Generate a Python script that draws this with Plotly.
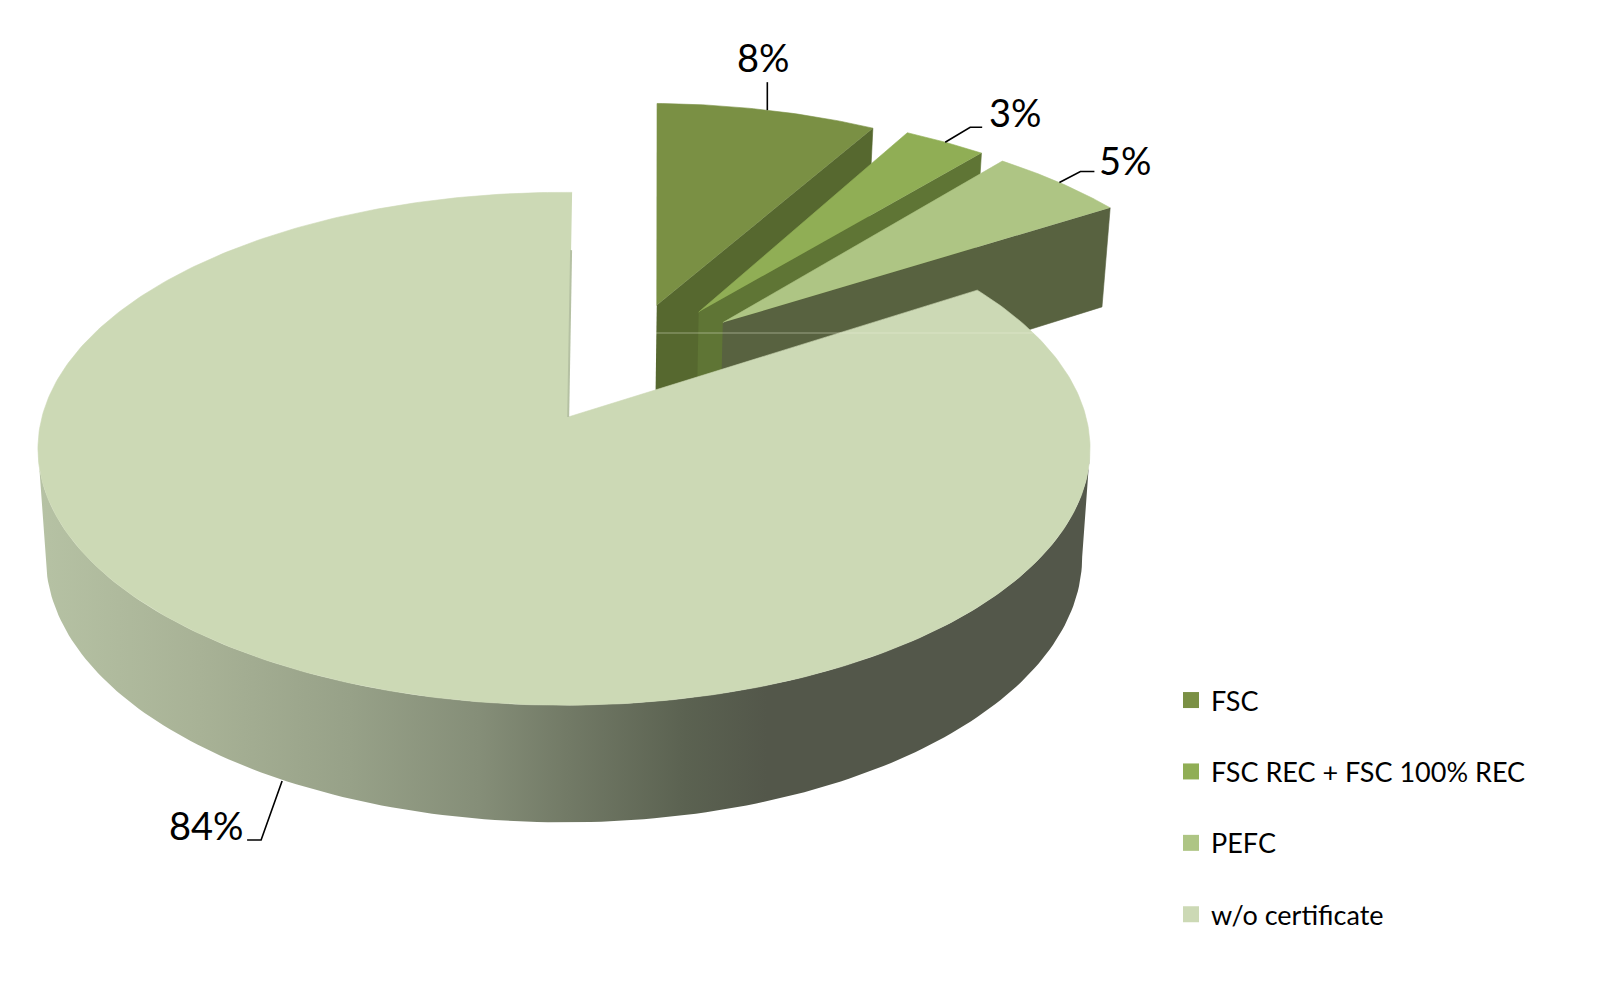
import numpy as np
import plotly.graph_objects as go

# ---- data -------------------------------------------------------------
categories = ["FSC", "FSC REC + FSC 100% REC", "PEFC", "w/o certificate"]
shares = [8, 3, 5, 84]

# ---- styles ------------------------------------------------------------
top_colors = ["#7A9044", "#90AE55", "#AEC584", "#CCD9B5"]
side_colors = ["#56682F", "#5F7535", "#586240", "#53574A"]
rim_scale = [[0.0, "#B6C2A4"], [0.154, "#A8B296"], [0.297, "#97A188"], [0.42, "#858E78"],
             [0.50, "#737B67"], [0.616, "#5B6251"], [0.694, "#53574A"], [1.0, "#53574A"]]

# projection of the pie plane on to the page (px)
CX, CY, A, B, K = 564.0, 417.0, 522.0, 252.5, 0.124
H0, KH, SHRINK = 107.0, 0.0865, 0.015
# exploded offset (plane units), small angular correction, and inner depth factor of each slice
explode = [(0.188, 0.468), (0.272, 0.438), (0.319, 0.392), (0.008, 0.0)]
angle_shift = [1.3, 0.7, 0.3, 0.0]
inner_depth = [1.25, 1.25, 1.0, 1.0]
FONT = "Lato"


def project(X, Y, depth=0.0):
    den = 1 + K * Y
    sx = CX + A * X / den * (1 - SHRINK * depth)
    sy = CY - B * Y / den + depth * H0 / (1 + KH * Y)
    return sx, sy


def arc(a0, a1, n=160):
    return np.radians(np.linspace(a0, a1, n))


fig = go.Figure()


def poly(xs, ys, color):
    fig.add_trace(go.Scatter(x=xs, y=ys, mode="lines", fill="toself", fillcolor=color,
                             line=dict(color=color, width=0.6), hoverinfo="skip", showlegend=False))


cum = np.cumsum([0] + shares) * 3.6
anchors = []
for i in range(3):
    dx, dy = explode[i]
    t = arc(cum[i] + angle_shift[i], cum[i + 1] + angle_shift[i], 40)
    # far cut face (painted first, later slices overlap it)
    xe, ye = dx + np.sin(t[-1]), dy + np.cos(t[-1])
    p = [project(dx, dy), project(xe, ye), project(xe, ye, 1), project(dx, dy, inner_depth[i])]
    poly([q[0] for q in p], [q[1] for q in p], side_colors[i])
    # top face
    X = np.r_[dx, dx + np.sin(t)]
    Y = np.r_[dy, dy + np.cos(t)]
    sx, sy = project(X, Y)
    poly(sx, sy, top_colors[i])
    mid = (t[0] + t[-1]) / 2
    anchors.append(project(dx + np.sin(mid), dy + np.cos(mid)))

# main slice: rim between the two silhouette tangents (cos = -K), then top face
tangent = np.degrees(np.arccos(-K))
t = arc(tangent, 360 - tangent)
xa, ya = project(np.sin(t), np.cos(t))
xb, yb = project(np.sin(t), np.cos(t), 1)
fig.add_trace(go.Scatter(x=np.r_[xa, xb[::-1]], y=np.r_[ya, yb[::-1]], mode="lines", fill="toself",
                         fillgradient=dict(type="horizontal", colorscale=rim_scale, start=38, stop=1088),
                         line=dict(width=0), hoverinfo="skip", showlegend=False))
t = arc(cum[3], cum[4] + 1, 400)
dx, dy = explode[3]
X = np.r_[dx, np.sin(t)]
Y = np.r_[dy, np.cos(t)]
sx, sy = project(X, Y)
poly(sx, sy, top_colors[3])
# thin cut face along the start of the main slice
ex, ey = project(dx + 0.72 * (np.sin(t[-1]) - dx), dy + 0.72 * (np.cos(t[-1]) - dy))
fig.add_trace(go.Scatter(x=[sx[0], ex], y=[sy[0], ey], mode="lines", line=dict(color="#B5C1A3", width=2),
                         hoverinfo="skip", showlegend=False))
mid = np.radians((cum[3] + cum[4]) / 2)
anchors.append(project(np.sin(mid), np.cos(mid), 1))

# seam line seen in the picture
fig.add_shape(type="line", x0=656, x1=1033, y0=333, y1=333, line=dict(color="rgba(235,240,220,0.45)", width=1))

# leader lines and value labels: elbow/label offsets from the anchor on the rim
leader_base = [(0, 0), (0, 0), (0, 0), (-4, 0)]
leader_offsets = [[(0, -28)], [(25, -15), (37, -15)], [(21, -11), (35, -11)], [(-21, 59), (-35, 59)]]
label_offsets = [(-4, -53), (70, -30), (66, -23), (-76, 44)]
for i, v in enumerate(shares):
    ax, ay = anchors[i][0] + leader_base[i][0], anchors[i][1] + leader_base[i][1]
    xs = [ax] + [ax + o[0] for o in leader_offsets[i]]
    ys = [ay] + [ay + o[1] for o in leader_offsets[i]]
    fig.add_trace(go.Scatter(x=xs, y=ys, mode="lines", line=dict(color="black", width=1.6),
                             hoverinfo="skip", showlegend=False))
    fig.add_annotation(x=ax + label_offsets[i][0], y=ay + label_offsets[i][1], text=f"{v}%", showarrow=False,
                       font=dict(family=FONT, size=38, color="black"), xanchor="center", yanchor="middle")

# legend entries
for name, col in zip(categories, top_colors):
    fig.add_trace(go.Scatter(x=[None], y=[None], mode="markers", name=name, legendgroup=name,
                             marker=dict(symbol="square", size=16, color=col)))

fig.update_layout(
    width=1605, height=981, margin=dict(l=0, r=0, t=0, b=0),
    paper_bgcolor="white", plot_bgcolor="white",
    xaxis=dict(range=[0, 1605], visible=False, fixedrange=True),
    yaxis=dict(range=[981, 0], visible=False, fixedrange=True),
    hovermode=False,
    legend=dict(x=1171 / 1605, y=1 - 676 / 981, xanchor="left", yanchor="top", tracegroupgap=33.3,
                font=dict(family=FONT, size=27, color="black"), bgcolor="rgba(0,0,0,0)"),
)
css = ("document.body.style.margin='0';"
       "var s=document.createElement('style');"
       "s.textContent='.legendtext{font-variant-ligatures:none}';"
       "document.head.appendChild(s);")
fig.write_html("out.html", config={"displayModeBar": False}, post_script=css)
